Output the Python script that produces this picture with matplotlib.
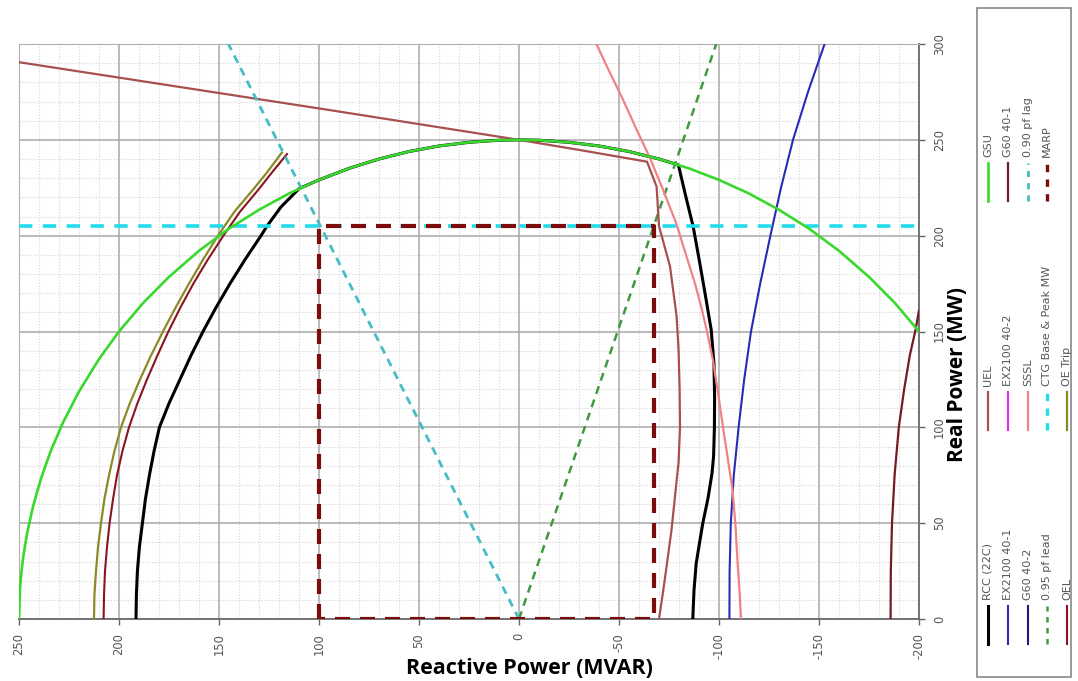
import matplotlib.pyplot as plt
from matplotlib.patches import Rectangle
from matplotlib.ticker import MultipleLocator

plt.rcParams['axes.unicode_minus'] = False

# Kurvy provozního diagramu generátoru (Q v MVAR, P v MW)
gsu_q = [250, 249.5, 249, 248, 246, 243, 239, 234, 228, 220, 210, 200, 188, 175, 160, 145,
         130, 115, 100, 85, 70, 55, 40, 25, 10, 0, -10, -25, -40, -55, -70, -85, -100,
         -115, -130, -145, -160, -175, -188, -200]
gsu_p = [0, 15.8, 22.3, 31.6, 44.5, 58.7, 73.3, 88, 102.5, 118.7, 135.6, 150, 164.8, 178.5,
         192.1, 203.7, 213.5, 222, 229.1, 235.1, 240, 243.9, 246.8, 248.7, 249.8, 250, 249.8,
         248.7, 246.8, 243.9, 240, 235.1, 229.1, 222, 213.5, 203.7, 192.1, 178.5, 164.8, 150]

rcc_q = [191.5, 191.3, 190.8, 189.8, 188.3, 186.8, 184.8, 182.5, 179.8, 175, 169.5, 164,
         158, 151.5, 144.5, 137, 129, 126, 119, 110, 100, 85, 70, 55, 40, 25, 10, 0,
         -10, -25, -40, -55, -70, -79.7, -83.5, -87.1, -90.5, -93.5, -96.1, -97.5, -97.8,
         -97.7, -97.3, -96.5, -94.5, -91.9, -90, -88.6, -87.5, -86.9]
rcc_p = [0, 12.5, 25, 37.5, 50, 62.5, 75, 87.5, 100, 112.5, 125, 137.5, 150, 162.5, 175,
         187.5, 200, 205, 215, 224.5, 229.1, 235.1, 240, 243.9, 246.8, 248.7, 249.8, 250,
         249.8, 248.7, 246.8, 243.9, 240, 236.9, 220, 204.7, 185, 167, 150.8, 133, 115,
         100, 85, 76, 63, 50, 38, 29, 15, 0]

uel_q = [250, 94.5, 0, -32, -64, -68.8, -70, -75.5, -78.8, -79.8, -80.3, -80.5, -79.8,
         -78, -76.2, -74, -72, -70]
uel_p = [290.5, 265.5, 250, 244.4, 238.6, 225.6, 205, 184, 158, 140, 120, 100, 82, 64,
         46, 29, 14, 0]

sssl_q = [-38.7, -45, -52, -58.5, -65.3, -72, -78.6, -83.5, -88, -91.2, -94, -97, -99.5,
          -102, -104.5, -106.8, -108.3, -109.3, -110.3, -111]
sssl_p = [300, 286, 271, 256, 241, 224, 206.5, 190, 175, 162.5, 150, 135, 118, 100, 83,
          67, 48, 29, 14, 0]

ex2100_401_q = [-105.2, -105.3, -105.9, -107.4, -109.8, -112.6, -116, -120.6, -125.7,
                -131, -137, -144.5, -152.8]
ex2100_401_p = [0, 25, 50, 75, 100, 125, 150, 175, 200, 225, 250, 275, 300]

g60_401_q = [-185.8, -185.9, -186.5, -187.8, -189.9, -192.6, -195.4, -198.3, -200]
g60_401_p = [0, 25, 50, 75, 100, 120, 137.5, 151, 161]

oe_trip_q = [212.5, 212.3, 211.5, 210.5, 209, 207.3, 205, 202.3, 199, 194.6, 189.5, 184,
             178, 171.7, 165, 158, 150.5, 142.3, 133, 126, 118.6]
oe_trip_p = [0, 12.5, 25, 37.5, 50, 62.5, 75, 87.5, 100, 112.5, 125, 137.5, 150, 162.5,
             175, 187.5, 200, 212.5, 224, 233, 243.3]

oel_q = [207.7, 207.5, 207, 206, 204.7, 203, 201, 198.3, 195, 190.8, 186, 180.8, 175.3,
         169.3, 162.8, 155.6, 147.8, 139.5, 130.3, 123.5, 116]
oel_p = [0, 12.5, 25, 37.5, 50, 62.5, 75, 87.5, 100, 112.5, 125, 137.5, 150, 162.5, 175,
         187.5, 200, 212.5, 224, 233, 242.6]

pf_lag_q = [0, 145.3]
pf_lag_p = [0, 300]
pf_lead_q = [0, -98.6]
pf_lead_p = [0, 300]

marp_q = [100, 100, -67.5, -67.5, 100]
marp_p = [0, 205, 205, 0, 0]

ctg_q = [250, -200]
ctg_p = [205, 205]

fig = plt.figure(figsize=(10.78, 6.81), dpi=100)
ax = fig.add_axes([19 / 1078, 62 / 681, 900 / 1078, 575 / 681])

lines = {}
lines['RCC (22C)'] = ax.plot(rcc_q, rcc_p, color='black', lw=2.2, zorder=3)[0]
lines['EX2100 40-1'] = ax.plot(ex2100_401_q, ex2100_401_p, color='#2a2ab8', lw=1.5, zorder=3)[0]
lines['G60 40-2'] = ax.plot([], [], color='#1c1c80', lw=1.5)[0]
lines['0.95 pf lead'] = ax.plot(pf_lead_q, pf_lead_p, color='#3f9a3f', lw=1.8,
                                dashes=(3.2, 2.4), zorder=3)[0]
lines['OEL'] = ax.plot(oel_q, oel_p, color='#8a1420', lw=1.5, zorder=3)[0]
lines['UEL'] = ax.plot(uel_q, uel_p, color='#a85050', lw=1.6, zorder=3)[0]
lines['EX2100 40-2'] = ax.plot([], [], color='#ee22ee', lw=1.5)[0]
lines['SSSL'] = ax.plot(sssl_q, sssl_p, color='#f08282', lw=1.6, zorder=3)[0]
lines['CTG Base & Peak MW'] = ax.plot(ctg_q, ctg_p, color='#22dcec', lw=2.6,
                                      dashes=(3.7, 2.9), zorder=3)[0]
lines['OE Trip'] = ax.plot(oe_trip_q, oe_trip_p, color='#8c8a24', lw=1.6, zorder=3)[0]
lines['GSU'] = ax.plot(gsu_q, gsu_p, color='#38d82c', lw=1.9, zorder=4)[0]
lines['G60 40-1'] = ax.plot(g60_401_q, g60_401_p, color='#741a24', lw=1.6, zorder=3)[0]
lines['0.90 pf lag'] = ax.plot(pf_lag_q, pf_lag_p, color='#46bcc4', lw=2.0,
                               dashes=(2.9, 2.2), zorder=3)[0]
lines['MARP'] = ax.plot(marp_q, marp_p, color='#7c0c0c', lw=3.0,
                        dashes=(3.6, 2.4), zorder=5)[0]

ax.set_xlim(250, -200)
ax.set_ylim(0, 300)
ax.xaxis.set_major_locator(MultipleLocator(50))
ax.xaxis.set_minor_locator(MultipleLocator(10))
ax.yaxis.set_major_locator(MultipleLocator(50))
ax.yaxis.set_minor_locator(MultipleLocator(10))
ax.grid(which='major', color='#a8a8a8', lw=1.1)
ax.grid(which='minor', color='#d4d4d4', lw=0.8, linestyle=':')
ax.set_axisbelow(True)

ax.yaxis.tick_right()
ax.tick_params(axis='both', which='major', direction='out', length=4, width=1,
               color='#666666', labelsize=8.3, labelcolor='#555555', labelrotation=90)
ax.tick_params(axis='x', pad=6)
ax.tick_params(axis='y', pad=6)
ax.tick_params(which='minor', length=0)
for side in ['top', 'left']:
    ax.spines[side].set_color('#b0b0b0')
for side in ['bottom', 'right']:
    ax.spines[side].set_color('#6a6a6a')
    ax.spines[side].set_linewidth(1.3)
for lab in ax.get_yticklabels():
    lab.set_verticalalignment('center')

fig.text(529 / 1078, 1 - 668 / 681, 'Reactive Power (MVAR)', ha='center', va='center',
         fontsize=15.5, fontweight='bold', family='Open Sans')
fig.text(958 / 1078, 1 - 375 / 681, 'Real Power (MW)', ha='center', va='center',
         rotation=90, fontsize=15, fontweight='bold', family='Open Sans')

# Legenda otočená o 90°, kreslená ve vlastní vrstvě v pixelech
lax = fig.add_axes([0, 0, 1, 1], zorder=10)
lax.set_xlim(0, 1078)
lax.set_ylim(681, 0)
lax.axis('off')
lax.add_patch(Rectangle((977, 8), 94, 669, fill=False, edgecolor='#888888', lw=1.2))

legend_cols = [
    ['RCC (22C)', 'EX2100 40-1', 'G60 40-2', '0.95 pf lead', 'OEL'],
    ['UEL', 'EX2100 40-2', 'SSSL', 'CTG Base & Peak MW', 'OE Trip'],
    ['GSU', 'G60 40-1', '0.90 pf lag', 'MARP'],
]
col_bottom = [644, 430, 201]
row_x = [988, 1008, 1028, 1047, 1067]
for labels, y0 in zip(legend_cols, col_bottom):
    for name, x in zip(labels, row_x):
        src = lines[name]
        lw = min(src.get_linewidth(), 2.4)
        seg = lax.plot([x, x], [y0, y0 - 38], color=src.get_color(), lw=lw)[0]
        if src.get_linestyle() != '-':
            seg.set_dashes((2.2, 2.2))
        lax.text(x, y0 - 44, name, rotation=90, ha='center', va='bottom',
                 fontsize=8, color='#555555')

fig.savefig('out.png', dpi=100)
